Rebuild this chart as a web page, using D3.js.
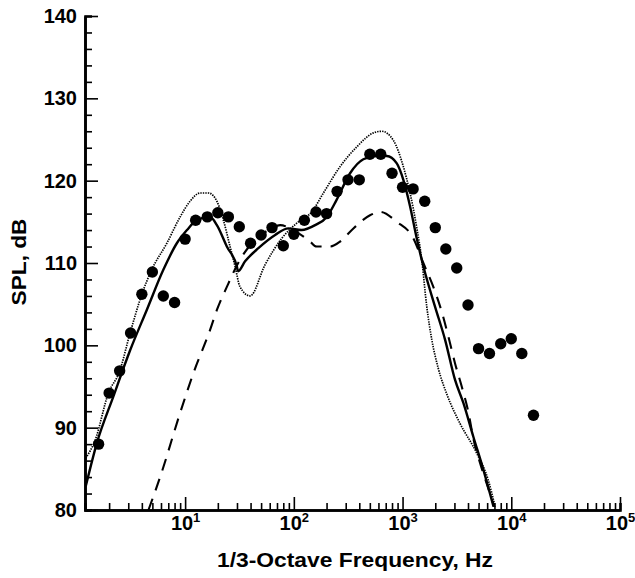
<!DOCTYPE html>
<html>
<head>
<meta charset="utf-8">
<script src="https://cdn.jsdelivr.net/npm/d3@7"></script>
<style>
    body { margin: 0; background: #fff; }
    svg { display: block; font-family: "Liberation Sans", Arial, sans-serif; font-weight: bold; }
</style>
</head>
<body>
<script>
// measured 1/3-octave band levels (filled circles)
var bandFreq = [1.6, 2, 2.5, 3.15, 4, 5, 6.3, 8, 10, 12.5, 16, 20, 25, 31.5, 40, 50, 63, 80, 100,
    125, 160, 200, 250, 315, 400, 500, 630, 800, 1000, 1250, 1600, 2000, 2500, 3150, 4000,
    5000, 6300, 8000, 10000, 12500, 16000];
var bandSPL = [88.0, 94.2, 96.9, 101.5, 106.2, 108.9, 106.0, 105.2, 112.9, 115.2, 115.6, 116.1, 115.6,
    114.4, 112.4, 113.4, 114.3, 112.1, 113.5, 115.2, 116.2, 116.0, 118.7, 120.1, 120.1, 123.2, 123.2,
    120.9, 119.2, 119.0, 117.5, 114.3, 111.7, 109.4, 104.9, 99.6, 99.0, 100.2, 100.8, 99.0, 91.5];

// solid curve
var solidFreq = [1.22, 1.54, 2.19, 3.12, 4.44, 6.32, 8.39, 10.4, 12.8, 17.0, 19.6, 24.2, 29.9, 30.7,
    35.6, 47.2, 67.3, 89.2, 118, 157, 201, 248, 329, 436, 579, 716, 885, 1017, 1172, 1350, 1553,
    1989, 2459, 3040, 3625, 4478, 5535, 6870];
var solidSPL = [82.9, 88.1, 93.8, 99.4, 104.3, 109.2, 112.4, 114.0, 115.2, 115.6, 114.6, 112.0, 109.6, 109.0,
    110.2, 111.8, 113.4, 114.2, 114.0, 114.6, 115.6, 117.7, 120.9, 122.6, 123.0, 123.0, 122.1, 120.1,
    116.9, 113.0, 109.6, 104.7, 100.7, 95.8, 93.0, 88.9, 84.9, 80.4];

// dotted curve
var dottedFreq = [1.22, 1.49, 1.97, 2.49, 3.12, 4.0, 4.94, 6.79, 9.0, 11.1, 13.75, 16.4, 19.6, 22.5,
    25.9, 28.8, 32.0, 39.6, 54.4, 77.5, 110, 146, 187, 266, 379, 539, 644, 823, 1017, 1172, 1350,
    1502, 1670, 1857, 2121, 2565, 3381, 4811, 6150, 7096];
var dottedSPL = [86.3, 88.5, 94.2, 96.8, 101.5, 106.2, 109.2, 112.4, 115.6, 117.5, 118.5, 118.5, 117.5, 115.2,
    112.0, 109.6, 107.1, 106.0, 109.8, 113.0, 115.0, 116.2, 118.5, 121.7, 124.1, 125.8, 126.0, 124.9,
    121.7, 118.5, 114.3, 110.4, 104.7, 100.7, 97.3, 94.0, 90.5, 86.9, 83.6, 80.4];

// dashed curve
var dashedFreq = [4.6, 5.89, 9.0, 11.9, 17.0, 19.6, 24.2, 32.0, 44.1, 60.5, 74.8, 99.1, 141, 162, 215,
    266, 353, 502, 621, 885, 1257, 1553, 1919, 2291, 2636, 3040, 3501, 4027, 4478, 5160, 5947, 6980];
var dashedSPL = [80.0, 84.0, 91.8, 96.6, 101.9, 104.3, 107.1, 110.4, 112.8, 114.1, 114.6, 114.0, 112.6, 112.0, 112.0,
    112.6, 114.2, 115.8, 116.2, 115.0, 113.0, 110.0, 107.1, 104.1, 101.1, 97.8, 95.0, 91.9, 88.7, 85.7, 83.2, 80.4];

var xDecades = [10, 100, 1000, 10000, 100000];
var yMajor = [80, 90, 100, 110, 120, 130, 140];

(function(window) {
    var W = 635, H = 578,
        left = 85, right = 620, top = 16, bottom = 510;

    var svg = d3.select('body').append('svg')
        .attr('width', W)
        .attr('height', H);

    var x = d3.scaleLog().domain([1.2, 1e5]).range([left, right]);
    var y = d3.scaleLinear().domain([80, 140]).range([bottom, top]);

    function pairs(f, v) {
        return f.map(function(d, i) { return [d, v[i]]; });
    }

    svg.append('clipPath').attr('id', 'plot')
        .append('rect')
        .attr('x', left).attr('y', top)
        .attr('width', right - left).attr('height', bottom - top);

    // minor x ticks
    var xMinor = x.ticks().filter(function(d) { return xDecades.indexOf(d) < 0; });
    svg.append('g')
        .attr('class', 'axis')
        .attr('transform', 'translate(0,' + bottom + ')')
        .call(d3.axisBottom(x).tickValues(xMinor).tickSize(-7).tickFormat(''));

    var xAxis = svg.append('g')
        .attr('class', 'axis')
        .attr('transform', 'translate(0,' + bottom + ')')
        .call(d3.axisBottom(x).tickValues(xDecades).tickSizeInner(-13).tickSizeOuter(0).tickFormat(''));

    xAxis.selectAll('.tick').append('text')
        .attr('y', 20)
        .attr('text-anchor', 'middle')
        .attr('fill', '#000')
        .each(function(d) {
            var t = d3.select(this);
            t.append('tspan').attr('font-size', 20).text('10');
            t.append('tspan').attr('font-size', 13).attr('dy', -8)
                .text(Math.round(Math.log10(d)));
        });

    // y axis
    var yMinor = d3.range(80, 141, 2).filter(function(d) { return d % 10 !== 0; });
    svg.append('g')
        .attr('class', 'axis')
        .attr('transform', 'translate(' + left + ',0)')
        .call(d3.axisLeft(y).tickValues(yMinor).tickSize(-7).tickFormat(''));

    svg.append('g')
        .attr('class', 'axis')
        .attr('transform', 'translate(' + left + ',0)')
        .call(d3.axisLeft(y).tickValues(yMajor).tickSizeInner(-13).tickSizeOuter(0).tickPadding(8))
        .selectAll('text')
            .attr('font-size', 20)
            .attr('font-family', '"Liberation Sans", Arial, sans-serif')
            .attr('font-weight', 'bold');

    svg.selectAll('.axis').attr('font-family', null).attr('font-size', null);
    svg.selectAll('.axis .tick line').attr('stroke', '#000').attr('stroke-width', 1.6);
    svg.selectAll('.axis .domain').attr('stroke', '#000').attr('stroke-width', 2.6);

    // titles
    svg.append('text')
        .attr('x', 355)
        .attr('y', 567)
        .attr('text-anchor', 'middle')
        .attr('font-size', 20)
        .attr('textLength', 276)
        .attr('lengthAdjust', 'spacingAndGlyphs')
        .text('1/3-Octave Frequency, Hz');

    svg.append('text')
        .attr('transform', 'translate(' + [26, 262] + ') rotate(-90)')
        .attr('text-anchor', 'middle')
        .attr('font-size', 20)
        .attr('textLength', 87)
        .attr('lengthAdjust', 'spacingAndGlyphs')
        .text('SPL, dB');

    // curves
    var line = d3.line()
        .x(function(d) { return x(d[0]); })
        .y(function(d) { return y(d[1]); })
        .curve(d3.curveMonotoneX);

    var plot = svg.append('g').attr('clip-path', 'url(#plot)');

    plot.append('path')
        .attr('d', line(pairs(dottedFreq, dottedSPL)))
        .attr('fill', 'none')
        .attr('stroke', '#000')
        .attr('stroke-width', 1.7)
        .attr('stroke-dasharray', '1.4,1.1');

    plot.append('path')
        .attr('d', line(pairs(dashedFreq, dashedSPL)))
        .attr('fill', 'none')
        .attr('stroke', '#000')
        .attr('stroke-width', 2.1)
        .attr('stroke-dasharray', '12,9');

    plot.append('path')
        .attr('d', line(pairs(solidFreq, solidSPL)))
        .attr('fill', 'none')
        .attr('stroke', '#000')
        .attr('stroke-width', 2.4);

    plot.selectAll('circle')
        .data(pairs(bandFreq, bandSPL))
        .enter().append('circle')
            .attr('cx', function(d) { return x(d[0]); })
            .attr('cy', function(d) { return y(d[1]); })
            .attr('r', 5.7)
            .attr('fill', '#000');
})(window);
</script>
</body>
</html>
